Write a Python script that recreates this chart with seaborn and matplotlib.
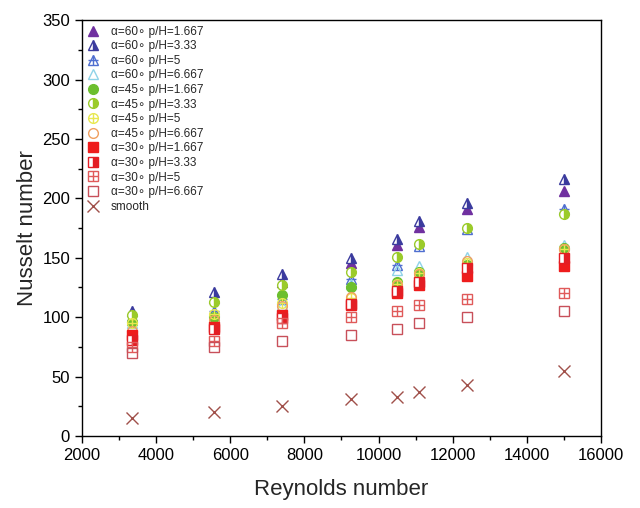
import numpy as np
import pandas as pd
import seaborn as sns
import matplotlib.pyplot as plt
from matplotlib.ticker import MultipleLocator
from matplotlib.legend_handler import HandlerTuple

# 数据
reynolds = [3340, 5560, 7400, 9250, 10500, 11100, 12400, 15000]

a60_ph1667 = [100, 116, 130, 146, 161, 176, 191, 206]
a60_ph333 = [105, 121, 136, 150, 166, 181, 196, 216]
a60_ph5 = [98, 105, 115, 132, 144, 160, 174, 191]
a60_ph6667 = [95, 100, 110, 128, 140, 143, 151, 161]
a45_ph1667 = [96, 100, 119, 125, 130, 138, 144, 158]
a45_ph333 = [102, 113, 127, 138, 151, 162, 175, 187]
a45_ph5 = [95, 103, 112, 116, 128, 137, 146, 157]
a45_ph6667 = [88, 98, 109, 117, 127, 136, 147, 157]
a30_ph1667 = [85, 92, 102, 110, 120, 127, 135, 143]
a30_ph333 = [81, 90, 99, 111, 122, 130, 141, 150]
a30_ph5 = [75, 80, 95, 100, 105, 110, 115, 120]
a30_ph6667 = [70, 75, 80, 85, 90, 95, 100, 105]
smooth = [15, 20, 25, 31, 33, 37, 43, 55]

labels = ['α=60∘ p/H=1.667', 'α=60∘ p/H=3.33', 'α=60∘ p/H=5', 'α=60∘ p/H=6.667',
          'α=45∘ p/H=1.667', 'α=45∘ p/H=3.33', 'α=45∘ p/H=5', 'α=45∘ p/H=6.667',
          'α=30∘ p/H=1.667', 'α=30∘ p/H=3.33', 'α=30∘ p/H=5', 'α=30∘ p/H=6.667',
          'smooth']

series = [a60_ph1667, a60_ph333, a60_ph5, a60_ph6667,
          a45_ph1667, a45_ph333, a45_ph5, a45_ph6667,
          a30_ph1667, a30_ph333, a30_ph5, a30_ph6667, smooth]

# 样式: (marker, color, fill, crossed)
styles = [
    ('^', '#7030A0', 'full', False),
    ('^', '#3B3B9E', 'right', False),
    ('^', '#4F6FD0', 'none', True),
    ('^', '#8FD3E8', 'none', False),
    ('o', '#6CBF2E', 'full', False),
    ('o', '#9BCB2A', 'right', False),
    ('o', '#E8E850', 'none', True),
    ('o', '#F0A060', 'none', False),
    ('s', '#EE1C1C', 'full', False),
    ('s', '#E31E24', 'right', False),
    ('s', '#E05A5A', 'none', True),
    ('s', '#C8505A', 'none', False),
    ('x', '#A0504A', 'full', False),
]

sns.set_style('ticks')
plt.rcParams['font.family'] = ['Liberation Sans', 'DejaVu Sans']

fig = plt.figure(figsize=(6.4, 5.08), dpi=100)
ax = fig.add_axes([0.128, 0.142, 0.811, 0.818])

handles = []
for vals, lab, (mk, col, fill, crossed) in zip(series, labels, styles):
    df = pd.DataFrame({'Re': reynolds, 'Nu': vals})
    kw = dict(marker=mk, linestyle='', markersize=7, markeredgecolor=col,
              markeredgewidth=1.0, color=col)
    if fill == 'full':
        kw['markerfacecolor'] = col
    elif fill == 'none':
        kw['markerfacecolor'] = 'none'
    else:
        kw['markerfacecolor'] = col
        kw['fillstyle'] = fill
        kw['markerfacecoloralt'] = 'white'
    if mk == 'x':
        kw['markersize'] = 8
    sns.lineplot(data=df, x='Re', y='Nu', ax=ax, errorbar=None, **kw)
    h = ax.lines[-1]
    if crossed:
        sns.lineplot(data=df, x='Re', y='Nu', ax=ax, errorbar=None, marker='+',
                     linestyle='', markersize=7, markeredgecolor=col,
                     markeredgewidth=1.0, color=col)
        h = (h, ax.lines[-1])
    handles.append(h)

ax.set_xlim(2000, 16000)
ax.set_ylim(0, 350)
ax.xaxis.set_major_locator(MultipleLocator(2000))
ax.xaxis.set_minor_locator(MultipleLocator(1000))
ax.yaxis.set_major_locator(MultipleLocator(50))
ax.yaxis.set_minor_locator(MultipleLocator(25))
ax.tick_params(which='major', direction='out', length=5, width=1, labelsize=12, colors='black')
ax.tick_params(which='minor', direction='out', length=3, width=1, colors='black')
for s in ax.spines.values():
    s.set_visible(True)
    s.set_linewidth(1)
    s.set_color('black')

ax.set_xlabel('Reynolds number', fontsize=16, labelpad=12)
ax.set_ylabel('Nusselt number', fontsize=16, labelpad=3)

ax.legend(handles, labels, loc='upper left', frameon=False, fontsize=8.5,
          handler_map={tuple: HandlerTuple(ndivide=1)},
          labelspacing=0.22, handlelength=1.0, handletextpad=1.0,
          borderaxespad=0.15, borderpad=0.3)

plt.savefig('out.png', dpi=100)
plt.close()
